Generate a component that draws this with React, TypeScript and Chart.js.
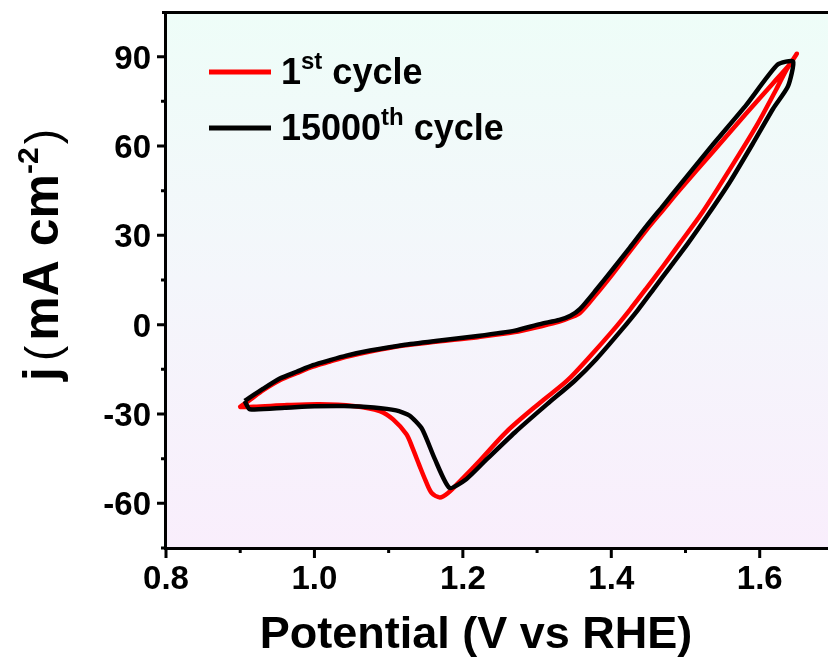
import React, { useEffect, useRef } from "react";
import { Chart, registerables } from "chart.js";

Chart.register(...registerables);

// ---- axis ranges and ticks ----
const X_MIN = 0.8;
const X_MAX = 1.692;
const Y_MIN = -75;
const Y_MAX = 105;
const X_TICKS = [0.8, 1.0, 1.2, 1.4, 1.6];
const X_TICK_LABELS = ["0.8", "1.0", "1.2", "1.4", "1.6"];
const X_MINOR = [0.9, 1.1, 1.3, 1.5];
const Y_TICKS = [-60, -30, 0, 30, 60, 90];
const Y_TICK_LABELS = ["-60", "-30", "0", "30", "60", "90"];
const Y_MINOR = [-75, -45, -15, 15, 45, 75];

// ---- 1st cycle (red) ----
const CYCLE1_V = [
  0.900, 0.913, 0.931, 0.954, 0.976, 0.998, 1.021, 1.043, 1.075, 1.12, 1.169, 1.22, 1.27, 1.304,
  1.33, 1.345, 1.358, 1.38, 1.402, 1.425, 1.447, 1.470, 1.492, 1.537, 1.582, 1.618, 1.640, 1.650,
  1.636, 1.622, 1.595, 1.559, 1.523, 1.492, 1.470, 1.447, 1.425, 1.402, 1.37, 1.340, 1.304, 1.259,
  1.223, 1.196, 1.180, 1.169, 1.158, 1.150, 1.141, 1.132, 1.124, 1.106, 1.088, 1.052, 1.007, 0.963,
  0.918, 0.900,
];
const CYCLE1_J = [
  -27.6, -25.3, -22.0, -18.6, -16.3, -14.1, -12.4, -10.8, -9.0, -7.0, -5.6, -4.2, -2.5, -0.6,
  1.0, 2.4, 4.0, 10.3, 17.1, 24.6, 31.7, 38.6, 45.2, 58.1, 71.0, 81.1, 87.3, 91.0,
  85.6, 78.9, 66.5, 51.9, 37.8, 27.2, 19.7, 12.1, 5.0, -2.0, -11.0, -18.9, -26.2, -35.9,
  -45.6, -52.6, -56.5, -58.0, -56.5, -52.5, -47.0, -41.3, -36.8, -31.8, -29.0, -27.3, -26.7, -27.0,
  -27.6, -27.6,
];

// ---- 15000th cycle (black) ----
const CYCLE15000_V = [
  0.906, 0.931, 0.954, 0.976, 0.998, 1.021, 1.043, 1.075, 1.12, 1.169, 1.22, 1.27, 1.304, 1.33,
  1.345, 1.358, 1.38, 1.402, 1.425, 1.447, 1.470, 1.492, 1.537, 1.582, 1.624, 1.645, 1.638, 1.618,
  1.59, 1.56, 1.53, 1.503, 1.480, 1.458, 1.436, 1.413, 1.38, 1.350, 1.314, 1.270, 1.233, 1.205,
  1.182, 1.162, 1.145, 1.128, 1.110, 1.080, 1.040, 1.000, 0.960, 0.913, 0.906,
];
const CYCLE15000_J = [
  -25.6, -21.5, -18.0, -15.8, -13.6, -11.9, -10.4, -8.7, -6.8, -5.3, -3.8, -2.0, 0.2, 1.6,
  3.0, 5.3, 11.8, 18.6, 25.9, 33.0, 40.0, 46.8, 60.5, 73.8, 87.3, 88.4, 80.0, 72.5,
  60.5, 48.0, 36.8, 27.2, 19.6, 12.3, 5.0, -2.0, -11.5, -19.0, -26.6, -36.2, -45.0, -51.8,
  -54.8, -45.0, -35.0, -30.5, -28.8, -27.8, -27.3, -27.4, -27.9, -28.4, -25.6,
];

const SERIES_NAMES = ["1st cycle", "15000th cycle"];
const SERIES_COLORS = ["#ff0000", "#000000"];

const FONT = '"Liberation Sans", Arial, Helvetica, sans-serif';

type Run = { t: string; size: number; dy?: number; weight?: string; gap?: number };

function runsWidth(ctx: CanvasRenderingContext2D, runs: Run[]) {
  let w = 0;
  for (const r of runs) {
    ctx.font = `${r.weight ?? "bold"} ${r.size}px ${FONT}`;
    w += ctx.measureText(r.t).width + (r.gap ?? 0);
  }
  return w;
}

function drawRuns(ctx: CanvasRenderingContext2D, runs: Run[], x: number) {
  let cx = x;
  for (const r of runs) {
    ctx.font = `${r.weight ?? "bold"} ${r.size}px ${FONT}`;
    ctx.fillText(r.t, cx, r.dy ?? 0);
    cx += ctx.measureText(r.t).width + (r.gap ?? 0);
  }
}

function toPts(xs: number[], ys: number[]) {
  return xs.map((x, i) => ({ x, y: ys[i] }));
}

const framePlugin = {
  id: "frame",
  beforeDatasetsDraw(chart: any) {
    const { ctx, chartArea: a } = chart;
    const g = ctx.createLinearGradient(0, a.top, 0, a.bottom);
    g.addColorStop(0, "#eefdf8");
    g.addColorStop(0.5, "#f4f6fb");
    g.addColorStop(1, "#f9eefc");
    ctx.save();
    ctx.fillStyle = g;
    ctx.fillRect(a.left, a.top, a.right - a.left, a.bottom - a.top);
    ctx.restore();
  },
  afterDatasetsDraw(chart: any) {
    const { ctx, chartArea: a } = chart;
    const xs = chart.scales.x;
    const ys = chart.scales.y;
    ctx.save();
    ctx.strokeStyle = "#000";
    ctx.fillStyle = "#000";
    ctx.lineWidth = 3;
    ctx.lineCap = "butt";
    // frame lines
    ctx.beginPath();
    ctx.moveTo(a.left - 4, a.top + 0.5);
    ctx.lineTo(a.right + 2, a.top + 0.5);
    ctx.moveTo(a.left - 0.5, a.top - 1);
    ctx.lineTo(a.left - 0.5, a.bottom + 1);
    ctx.moveTo(a.left - 2, a.bottom + 0.5);
    ctx.lineTo(a.right + 2, a.bottom + 0.5);
    ctx.stroke();
    // y ticks
    ctx.beginPath();
    for (const v of Y_TICKS) {
      const p = ys.getPixelForValue(v);
      ctx.moveTo(a.left, p);
      ctx.lineTo(a.left - 9, p);
    }
    for (const v of Y_MINOR) {
      const p = ys.getPixelForValue(v);
      ctx.moveTo(a.left, p);
      ctx.lineTo(a.left - 5, p);
    }
    // x ticks
    for (const v of X_TICKS) {
      const p = xs.getPixelForValue(v);
      ctx.moveTo(p, a.bottom);
      ctx.lineTo(p, a.bottom + 10);
    }
    for (const v of X_MINOR) {
      const p = xs.getPixelForValue(v);
      ctx.moveTo(p, a.bottom);
      ctx.lineTo(p, a.bottom + 5);
    }
    ctx.stroke();

    // tick labels
    ctx.textBaseline = "alphabetic";
    ctx.font = `bold 33px ${FONT}`;
    ctx.textAlign = "right";
    Y_TICKS.forEach((v, i) => {
      const p = ys.getPixelForValue(v);
      ctx.fillText(Y_TICK_LABELS[i], a.left - 15, p + 12);
    });
    ctx.textAlign = "center";
    X_TICKS.forEach((v, i) => {
      const p = xs.getPixelForValue(v);
      ctx.fillText(X_TICK_LABELS[i], p, a.bottom + 41);
    });

    // x title
    ctx.textAlign = "center";
    ctx.font = `bold 45px ${FONT}`;
    ctx.fillText("Potential (V vs RHE)", 476, 648);

    // y title (rotated)
    const yRuns: Run[] = [
      { t: "j", size: 50, gap: 6 },
      { t: "(", size: 46, weight: "normal", gap: 5 },
      { t: "mA cm", size: 50 },
      { t: "-2", size: 30, dy: -20, gap: 3 },
      { t: ")", size: 46, weight: "normal" },
    ];
    ctx.save();
    ctx.translate(58, 255);
    ctx.rotate(-Math.PI / 2);
    ctx.textAlign = "left";
    const yw = runsWidth(ctx, yRuns);
    drawRuns(ctx, yRuns, -yw / 2);
    ctx.restore();

    // legend
    const legendRows: { y: number; runs: Run[] }[] = [
      { y: 72, runs: [{ t: "1", size: 36 }, { t: "st", size: 24, dy: -15 }, { t: " cycle", size: 36 }] },
      { y: 128, runs: [{ t: "15000", size: 36 }, { t: "th", size: 24, dy: -15 }, { t: " cycle", size: 36 }] },
    ];
    ctx.textAlign = "left";
    legendRows.forEach((row, i) => {
      ctx.strokeStyle = SERIES_COLORS[i];
      ctx.lineWidth = 5;
      ctx.beginPath();
      ctx.moveTo(209, row.y);
      ctx.lineTo(271, row.y);
      ctx.stroke();
      ctx.fillStyle = "#000";
      ctx.save();
      ctx.translate(281, row.y + 12);
      drawRuns(ctx, row.runs, 0);
      ctx.restore();
    });
    ctx.restore();
  },
};

export default function App() {
  const ref = useRef<HTMLCanvasElement>(null);
  useEffect(() => {
    const canvas = ref.current;
    if (!canvas) return;
    const chart = new Chart(canvas, {
      type: "scatter",
      data: {
        datasets: [
          {
            label: SERIES_NAMES[0],
            data: toPts(CYCLE1_V, CYCLE1_J),
            showLine: true,
            borderColor: SERIES_COLORS[0],
            backgroundColor: SERIES_COLORS[0],
            borderWidth: 4.5,
            pointRadius: 0,
            tension: 0.3,
            borderCapStyle: "round",
            borderJoinStyle: "round",
            order: 2,
          },
          {
            label: SERIES_NAMES[1],
            data: toPts(CYCLE15000_V, CYCLE15000_J),
            showLine: true,
            borderColor: SERIES_COLORS[1],
            backgroundColor: SERIES_COLORS[1],
            borderWidth: 4.5,
            pointRadius: 0,
            tension: 0.2,
            borderCapStyle: "butt",
            borderJoinStyle: "miter",
            order: 1,
          },
        ],
      },
      options: {
        responsive: false,
        animation: false,
        devicePixelRatio: 1,
        layout: { padding: { top: 12, right: 0, left: 0, bottom: 0 } },
        plugins: { legend: { display: false }, tooltip: { enabled: false } },
        scales: {
          x: {
            type: "linear",
            min: X_MIN,
            max: X_MAX,
            grid: { display: false },
            border: { display: false },
            ticks: { display: false },
            afterBuildTicks: (s: any) => {
              s.ticks = X_TICKS.map((value) => ({ value }));
            },
            afterFit: (s: any) => {
              s.height = 112;
            },
          },
          y: {
            type: "linear",
            min: Y_MIN,
            max: Y_MAX,
            grid: { display: false },
            border: { display: false },
            ticks: { display: false },
            afterBuildTicks: (s: any) => {
              s.ticks = Y_TICKS.map((value) => ({ value }));
            },
            afterFit: (s: any) => {
              s.width = 166;
            },
          },
        },
      },
      plugins: [framePlugin],
    });
    return () => chart.destroy();
  }, []);
  return (
    <div style={{ position: "absolute", left: 0, top: 0, width: 828, height: 660 }}>
      <canvas ref={ref} width={828} height={660} style={{ display: "block" }} />
    </div>
  );
}
